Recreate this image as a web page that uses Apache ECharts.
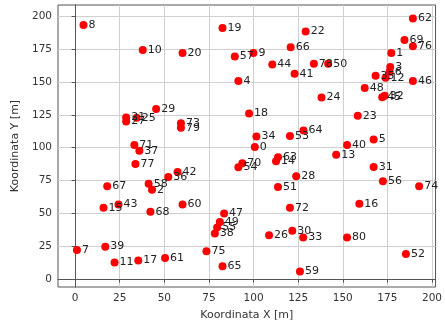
<!DOCTYPE html>
<html><head><meta charset="utf-8">
<script src="https://cdn.jsdelivr.net/npm/echarts@6/dist/echarts.min.js"></script>
<style>html,body{margin:0;padding:0;background:#fff}#c{width:445px;height:326px}</style>
</head><body><div id="c"></div>
<script>
const ids = [0,1,2,3,4,5,6,7,8,9,10,11,12,13,14,15,16,17,18,19,20,21,22,23,24,25,26,27,28,29,30,31,32,33,34,35,36,37,38,39,40,41,42,43,44,45,46,47,48,49,50,51,52,53,54,55,56,57,58,59,60,61,62,63,64,65,66,67,68,69,70,71,72,73,74,75,76,77,78,79,80];
const xs = [100.7,177.2,43.1,176.6,91.5,167.3,176.3,1,4.7,99.9,37.9,22.1,174,146.3,112.6,15.9,159.3,35.4,97.5,82.6,60.2,28.6,129.2,158.4,138.1,34.5,108.7,28.6,123.9,45.4,121.7,167.3,173.5,127.8,101.6,168.4,52.2,36,78.3,16.9,152.4,123,57.4,24.3,110.5,172.1,189.3,83.5,162.3,81.1,141.8,113.7,185.4,120.4,91.5,79.6,172.5,89.5,41.2,126,60.2,50.4,189.3,113.7,128,82.6,120.8,18,42.2,184.6,93.7,33.2,120.4,59.3,192.8,73.6,189.3,33.8,133.8,59.3,152.4];
const ys = [100.4,172,67.9,161.3,150.7,106.2,157.7,22.1,193.2,172,174.3,12.6,153.2,94.6,89.6,54.3,57.4,14.1,126,191,172,123,188.4,124.3,138.1,122.8,33.4,119.8,78.3,129.3,36.8,85.3,139.4,31.7,108.5,154.7,77.7,97.6,34.7,24.7,102.1,156.2,81.5,56.8,163.3,138.3,150.7,50,145.4,43.5,163.8,70,19.1,108.9,85,39.2,74.5,169.3,72.5,5.8,56.8,16.1,198.3,92.6,113,9.8,176.4,70.7,51.3,181.9,88.1,102.1,54.3,118.5,70.7,21.1,177.1,87.5,163.8,115.2,31.7];
const xTicks = [0,25,50,75,100,125,150,175,200];
const yTicks = [0,25,50,75,100,125,150,175,200];

const data = ids.map((id,i)=>[xs[i], ys[i], id]);
const chart = echarts.init(document.getElementById('c'), null, {renderer:'canvas'});
const font = 'DejaVu Sans';
chart.setOption({
  animation:false,
  grid:{left:58,right:7,top:5,bottom:37,show:true,borderColor:'#555',borderWidth:1},
  xAxis:{type:'value',min:-9.6,max:202,
    name:'Koordinata X [m]',nameLocation:'middle',nameGap:23,
    nameTextStyle:{fontFamily:font,fontSize:11,color:'#333'},
    axisLine:{lineStyle:{color:'#555'}},
    axisTick:{customValues:xTicks,length:3.5,lineStyle:{color:'#555'}},
    axisLabel:{customValues:xTicks,fontFamily:font,fontSize:10.5,color:'#333',margin:6},
    splitLine:{show:true,lineStyle:{color:'#cfcfcf',width:1}}},
  yAxis:{type:'value',min:-6,max:208.5,
    name:'Koordinata Y [m]',nameLocation:'middle',nameGap:35,
    nameTextStyle:{fontFamily:font,fontSize:11,color:'#333'},
    axisLine:{lineStyle:{color:'#555'}},
    axisTick:{customValues:yTicks,length:3.5,lineStyle:{color:'#555'}},
    axisLabel:{customValues:yTicks,fontFamily:font,fontSize:10.5,color:'#333',margin:6},
    splitLine:{show:true,lineStyle:{color:'#cfcfcf',width:1}}},
  series:[{type:'scatter',data:data,symbolSize:8,
    itemStyle:{color:'#ff0000',opacity:1},
    emphasis:{disabled:true},
    label:{show:true,position:'right',distance:1,fontFamily:font,fontSize:11,color:'#222',
      formatter:p=>String(p.value[2])},
    labelLayout:{hideOverlap:false}}]
});
</script></body></html>
